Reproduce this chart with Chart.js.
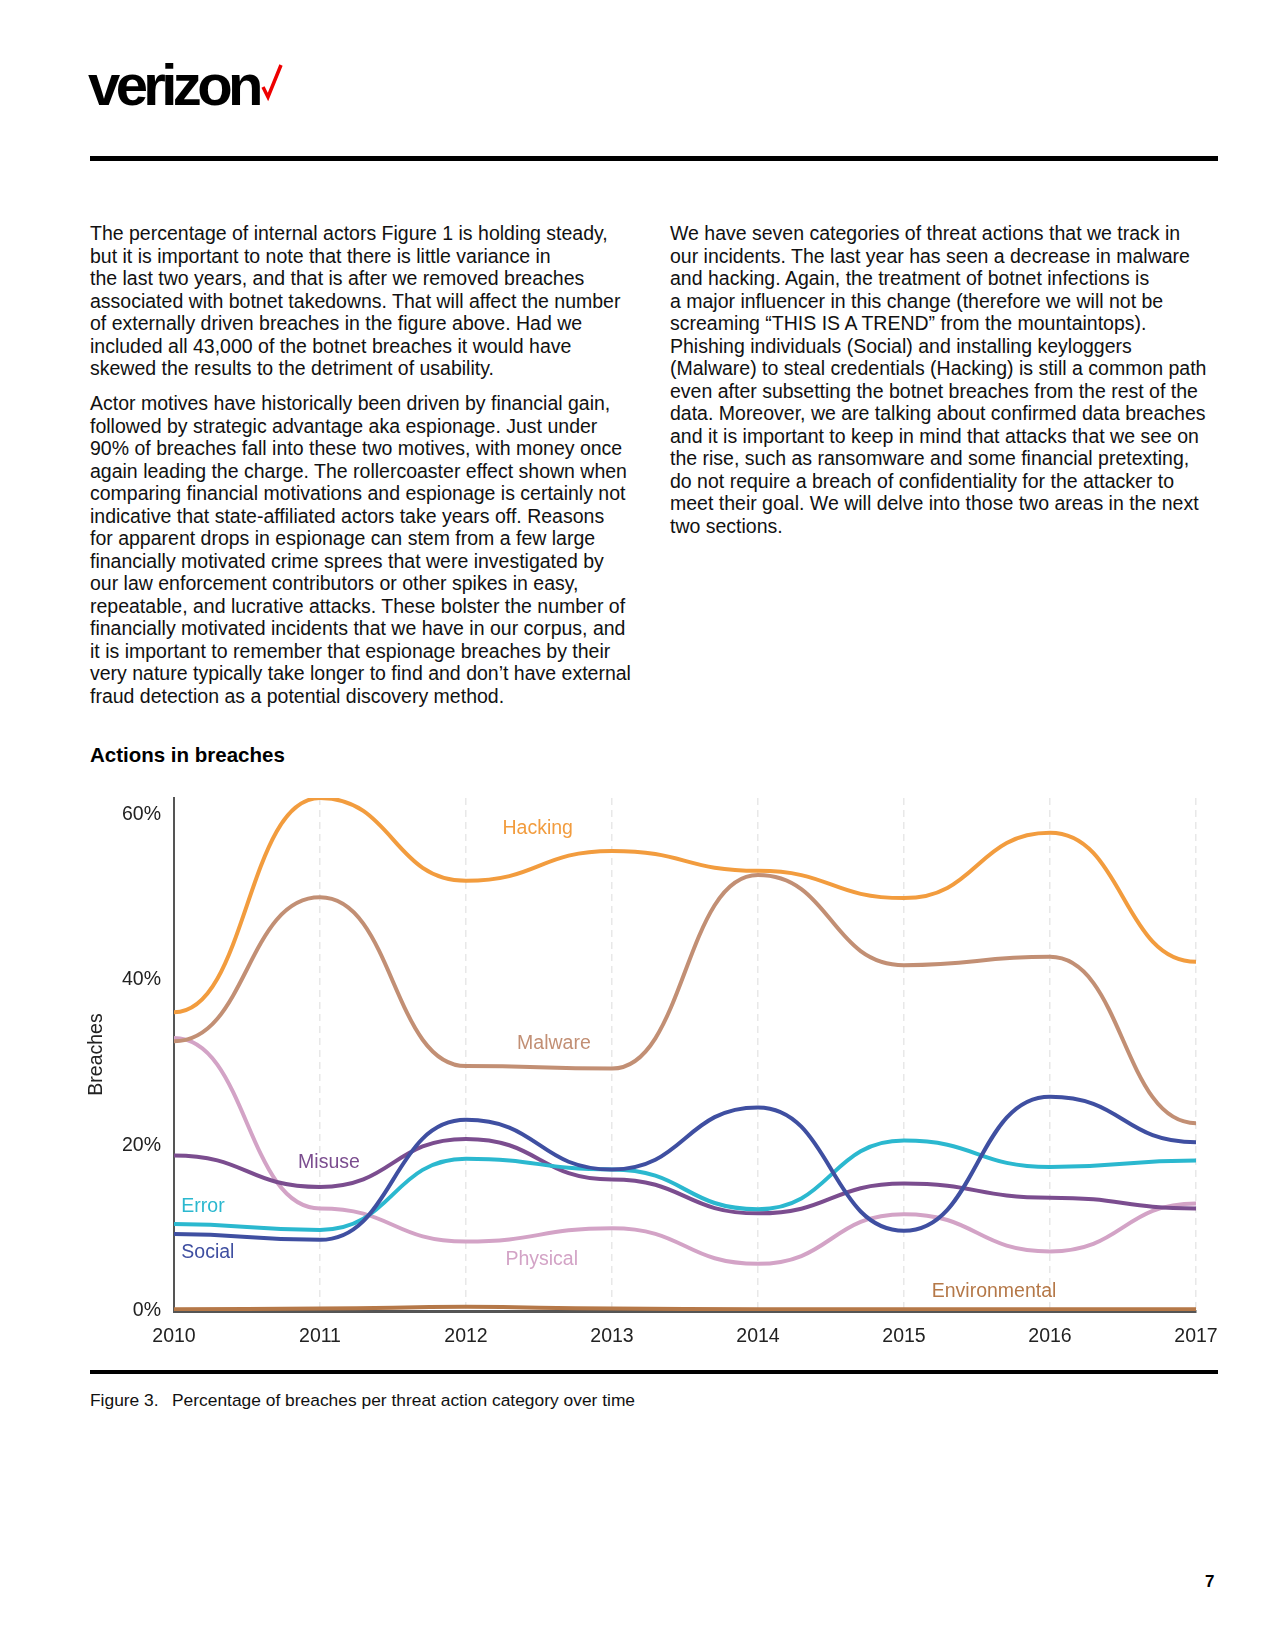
<!DOCTYPE html>
<html>
<head>
<meta charset="utf-8">
<script src="https://cdn.jsdelivr.net/npm/chart.js@4.4.1/dist/chart.umd.min.js"></script>
<style>
  html, body { margin: 0; padding: 0; background: #fff; }
  body { width: 1275px; height: 1650px; position: relative; font-family: "Liberation Sans", Arial, sans-serif; color: #111; }
  .abs { position: absolute; }
  .logo { left: 88px; top: 56px; font-size: 58px; font-weight: 700; letter-spacing: -4.6px; line-height: 58px; color: #000; }
  .rule { left: 90px; width: 1128px; background: #000; }
  .col { font-size: 19.5px; line-height: 22.5px; white-space: nowrap; }
  .title { left: 90px; top: 743px; font-size: 20.5px; font-weight: 700; line-height: 24px; color: #000; }
  .caption { left: 90px; top: 1390px; font-size: 17.4px; line-height: 20px; white-space: nowrap; }
  .caption span { display: inline-block; width: 82px; }
  .pageno { left: 1205px; top: 1572px; font-size: 17px; font-weight: 700; color: #000; }
  #wrap { left: 0; top: 780px; width: 1275px; height: 590px; }
</style>
</head>
<body>
<div class="abs logo">verizon</div>
<svg class="abs" style="left:260px;top:62px" width="24" height="40" viewBox="0 0 24 40">
  <polyline points="3,25 8,35 21,3" fill="none" stroke="#ee0000" stroke-width="3.5"/>
</svg>
<div class="abs rule" style="top:156px;height:5px"></div>

<div class="abs col" style="left:90px;top:222px">
The percentage of internal actors Figure 1 is holding steady,<br>
but it is important to note that there is little variance in<br>
the last two years, and that is after we removed breaches<br>
associated with botnet takedowns. That will affect the number<br>
of externally driven breaches in the figure above. Had we<br>
included all 43,000 of the botnet breaches it would have<br>
skewed the results to the detriment of usability.
</div>
<div class="abs col" style="left:90px;top:392px">
Actor motives have historically been driven by financial gain,<br>
followed by strategic advantage aka espionage. Just under<br>
90% of breaches fall into these two motives, with money once<br>
again leading the charge. The rollercoaster effect shown when<br>
comparing financial motivations and espionage is certainly not<br>
indicative that state-affiliated actors take years off. Reasons<br>
for apparent drops in espionage can stem from a few large<br>
financially motivated crime sprees that were investigated by<br>
our law enforcement contributors or other spikes in easy,<br>
repeatable, and lucrative attacks. These bolster the number of<br>
financially motivated incidents that we have in our corpus, and<br>
it is important to remember that espionage breaches by their<br>
very nature typically take longer to find and don’t have external<br>
fraud detection as a potential discovery method.
</div>
<div class="abs col" style="left:670px;top:222px">
We have seven categories of threat actions that we track in<br>
our incidents. The last year has seen a decrease in malware<br>
and hacking. Again, the treatment of botnet infections is<br>
a major influencer in this change (therefore we will not be<br>
screaming “THIS IS A TREND” from the mountaintops).<br>
Phishing individuals (Social) and installing keyloggers<br>
(Malware) to steal credentials (Hacking) is still a common path<br>
even after subsetting the botnet breaches from the rest of the<br>
data. Moreover, we are talking about confirmed data breaches<br>
and it is important to keep in mind that attacks that we see on<br>
the rise, such as ransomware and some financial pretexting,<br>
do not require a breach of confidentiality for the attacker to<br>
meet their goal. We will delve into those two areas in the next<br>
two sections.
</div>

<div class="abs title">Actions in breaches</div>
<div class="abs" id="wrap"><canvas id="chart"></canvas></div>
<div class="abs rule" style="top:1370px;height:4px"></div>
<div class="abs caption"><span>Figure 3.</span>Percentage of breaches per threat action category over time</div>
<div class="abs pageno">7</div>

<script>
const years = ['2010', '2011', '2012', '2013', '2014', '2015', '2016', '2017']
const yTicks = [0, 20, 40, 60]

const hacking = [36.1, 62.0, 52.0, 55.6, 53.2, 49.9, 57.8, 42.2]
const malware = [32.6, 50.0, 29.6, 29.3, 52.7, 41.8, 42.8, 22.7]
const physical = [33.0, 12.4, 8.4, 10.0, 5.7, 11.7, 7.2, 13.0]
const misuse = [18.8, 15.0, 20.8, 15.9, 11.8, 15.4, 13.7, 12.4]
const error = [10.5, 9.8, 18.4, 17.1, 12.3, 20.6, 17.4, 18.2]
const social = [9.3, 8.6, 23.1, 17.1, 24.6, 9.7, 25.9, 20.4]
const environmental = [0.2, 0.3, 0.5, 0.3, 0.2, 0.2, 0.2, 0.2]

const series = [
  { name: 'Hacking', data: hacking, color: '#f29c3e', at: [2.25, 58.3] },
  { name: 'Malware', data: malware, color: '#c28f74', at: [2.35, 32.3] },
  { name: 'Social', data: social, color: '#3f4fa1', at: [0.05, 7.1] },
  { name: 'Error', data: error, color: '#2bb8cf', at: [0.05, 12.6] },
  { name: 'Misuse', data: misuse, color: '#7b4d8f', at: [0.85, 17.9] },
  { name: 'Physical', data: physical, color: '#d3a3c6', at: [2.27, 6.2] },
  { name: 'Environmental', data: environmental, color: '#b57848', at: [5.19, 2.3] },
]

const FONT = '"Liberation Sans", Arial, sans-serif'

// flat tangent at every point (bump-style curve), control points halfway to neighbours
const bumpCurve = {
  id: 'bumpCurve',
  beforeDatasetsDraw(chart) {
    chart.data.datasets.forEach((ds, i) => {
      const meta = chart.getDatasetMeta(i)
      const pts = meta.data
      pts.forEach((p, j) => {
        const prev = pts[j - 1], next = pts[j + 1]
        p.cp1x = prev ? p.x - (p.x - prev.x) / 2 : p.x
        p.cp1y = p.y
        p.cp2x = next ? p.x + (next.x - p.x) / 2 : p.x
        p.cp2y = p.y
      })
      meta.dataset._pointsUpdated = true
    })
  },
}

// series names written inside the plot, next to their lines
const seriesLabels = {
  id: 'seriesLabels',
  afterDatasetsDraw(chart) {
    const { ctx, scales: { x, y } } = chart
    ctx.save()
    ctx.font = '19.5px ' + FONT
    ctx.textAlign = 'left'
    ctx.textBaseline = 'middle'
    series.forEach(s => {
      ctx.fillStyle = s.color
      ctx.fillText(s.name, x.getPixelForValue(s.at[0]), y.getPixelForValue(s.at[1]))
    })
    ctx.restore()
  },
}

new Chart(document.getElementById('chart'), {
  type: 'line',
  data: {
    labels: years,
    datasets: series.map(s => ({
      label: s.name,
      data: s.data,
      borderColor: s.color,
      backgroundColor: s.color,
      borderWidth: 4,
      pointRadius: 0,
      cubicInterpolationMode: 'monotone',
      fill: false,
    })),
  },
  options: {
    responsive: true,
    maintainAspectRatio: false,
    animation: false,
    layout: { padding: { left: 85, right: 79, top: 18, bottom: 9 } },
    plugins: { legend: { display: false }, tooltip: { enabled: false } },
    scales: {
      x: {
        offset: false,
        grid: { color: '#e8e8e8', lineWidth: 1.5, drawTicks: false },
        border: { color: '#555', width: 3, dash: [7, 5] },
        ticks: { color: '#222', font: { family: FONT, size: 19.5 }, padding: 14, maxRotation: 0 },
        afterFit: s => { s.height = 50; s.paddingLeft = 0; s.paddingRight = 0 },
      },
      y: {
        min: 0,
        max: 62,
        grid: { display: false, drawTicks: false },
        border: { color: '#555', width: 2 },
        afterBuildTicks: s => { s.ticks = yTicks.map(v => ({ value: v })) },
        ticks: { color: '#222', font: { family: FONT, size: 19.5 }, padding: 13, callback: v => v + '%' },
        title: { display: true, text: 'Breaches', color: '#222', font: { family: FONT, size: 19.5 }, padding: { top: 0, bottom: 0 } },
        afterFit: s => { s.width = 89; s.paddingTop = 0; s.paddingBottom = 0 },
      },
    },
  },
  plugins: [bumpCurve, seriesLabels],
})
</script>
</body>
</html>
